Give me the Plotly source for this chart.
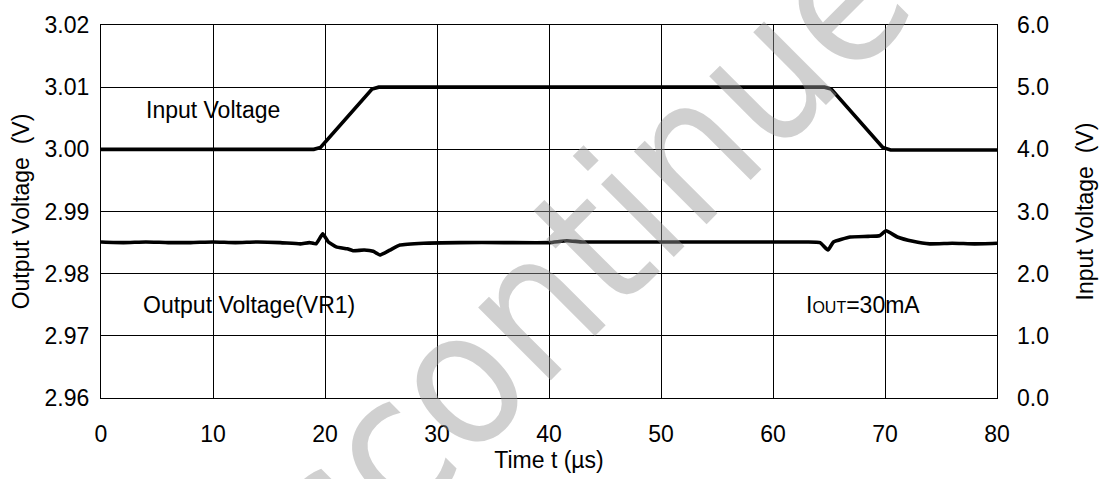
import plotly.graph_objects as go

# ---- data ----
t_in = [0, 19.0, 19.6, 24.2, 24.8, 64.6, 65.2, 69.8, 70.5, 80]
v_in = [4.0, 4.0, 4.03, 4.97, 5.0, 5.0, 4.97, 4.03, 3.99, 3.99]

t_out = [0, 2, 4, 6, 8, 10, 12, 14, 16, 17.8, 18.6, 19.2, 19.8, 20.3, 21.0, 22.0,
         22.5, 23.5, 24.3, 24.9, 25.8, 26.7, 28.8, 32, 36, 40, 41.6, 43, 48, 52,
         56, 60, 63, 64.2, 64.9, 65.4, 66.9, 68.5, 69.5, 70.1, 71.1, 72.5, 74,
         76, 78, 80]
v_out = [2.9851, 2.9850, 2.9851, 2.9850, 2.9850, 2.9851, 2.9850, 2.9851, 2.9850,
         2.9848, 2.9850, 2.9848, 2.9864, 2.9851, 2.9843, 2.9840, 2.9837, 2.9838,
         2.9836, 2.9830, 2.9838, 2.9846, 2.9849, 2.9850, 2.9850, 2.9850, 2.9853,
         2.9851, 2.9851, 2.9851, 2.9851, 2.9851, 2.9851, 2.9850, 2.9838, 2.9851,
         2.9859, 2.9860, 2.9861, 2.9869, 2.9859, 2.9852, 2.9848, 2.9849, 2.9848,
         2.9849]

x_ticks = [0, 10, 20, 30, 40, 50, 60, 70, 80]
y1_ticks = [2.96, 2.97, 2.98, 2.99, 3.00, 3.01, 3.02]
y2_ticks = [0, 1, 2, 3, 4, 5, 6]

FONT = "Liberation Sans, Arial, sans-serif"
WM_FONT = "Liberation Sans Narrow, DejaVu Sans Condensed, sans-serif"

fig = go.Figure()
fig.add_trace(go.Scatter(x=t_in, y=v_in, yaxis="y2", mode="lines",
                         line=dict(color="black", width=3.6), showlegend=False))
fig.add_trace(go.Scatter(x=t_out, y=v_out, yaxis="y", mode="lines",
                         line=dict(color="black", width=3.6, shape="spline", smoothing=0.4),
                         showlegend=False))

axis_common = dict(showline=True, linecolor="black", linewidth=1.3, mirror=True,
                   gridcolor="black", gridwidth=1.2, zeroline=False, ticks="",
                   tickfont=dict(family=FONT, size=23, color="black"))

fig.update_layout(
    width=1107, height=479,
    margin=dict(l=101, r=110, t=23, b=81),
    paper_bgcolor="white", plot_bgcolor="rgba(0,0,0,0)",
    font=dict(family=FONT, color="black"),
    xaxis=dict(range=[0, 80], tickvals=x_ticks, ticklabelstandoff=15,
               title=dict(text="Time t (\u00b5s)", font=dict(family=FONT, size=23), standoff=0),
               **axis_common),
    yaxis=dict(range=[2.96, 3.02], tickvals=y1_ticks, tickformat=".2f", ticklabelstandoff=6,
               title=dict(text="Output Voltage  (V)", font=dict(family=FONT, size=23), standoff=8),
               **axis_common),
    yaxis2=dict(range=[0, 6], tickvals=y2_ticks, tickformat=".1f", overlaying="y", side="right",
                showgrid=False, showline=False, zeroline=False, ticks="", ticklabelstandoff=19,
                tickfont=dict(family=FONT, size=23, color="black"),
                title=dict(text="Input Voltage  (V)", font=dict(family=FONT, size=23), standoff=28)),
)

fig.add_annotation(text="Discontinued", xref="paper", yref="paper", x=0.511, y=0.317,
                   xanchor="center", yanchor="middle", showarrow=False, textangle=-45,
                   font=dict(family=WM_FONT, size=188, color="rgba(150,150,150,0.45)"))

fig.add_annotation(text="Input Voltage", x=3.8, y=3.0064, xref="x", yref="y",
                   xanchor="left", yanchor="middle", showarrow=False,
                   font=dict(family=FONT, size=23, color="black"))
fig.add_annotation(text="Output Voltage(VR1)", x=3.6, y=2.9749, xref="x", yref="y",
                   xanchor="left", yanchor="middle", showarrow=False,
                   font=dict(family=FONT, size=23, color="black"))
fig.add_annotation(text="I<span style='font-size:16px'>OUT</span>=30mA", x=62.8, y=2.9749,
                   xref="x", yref="y", xanchor="left", yanchor="middle", showarrow=False,
                   font=dict(family=FONT, size=23, color="black"))

fig.write_html("out.html", config={"displayModeBar": False},
               post_script="document.body.style.margin='0';")
